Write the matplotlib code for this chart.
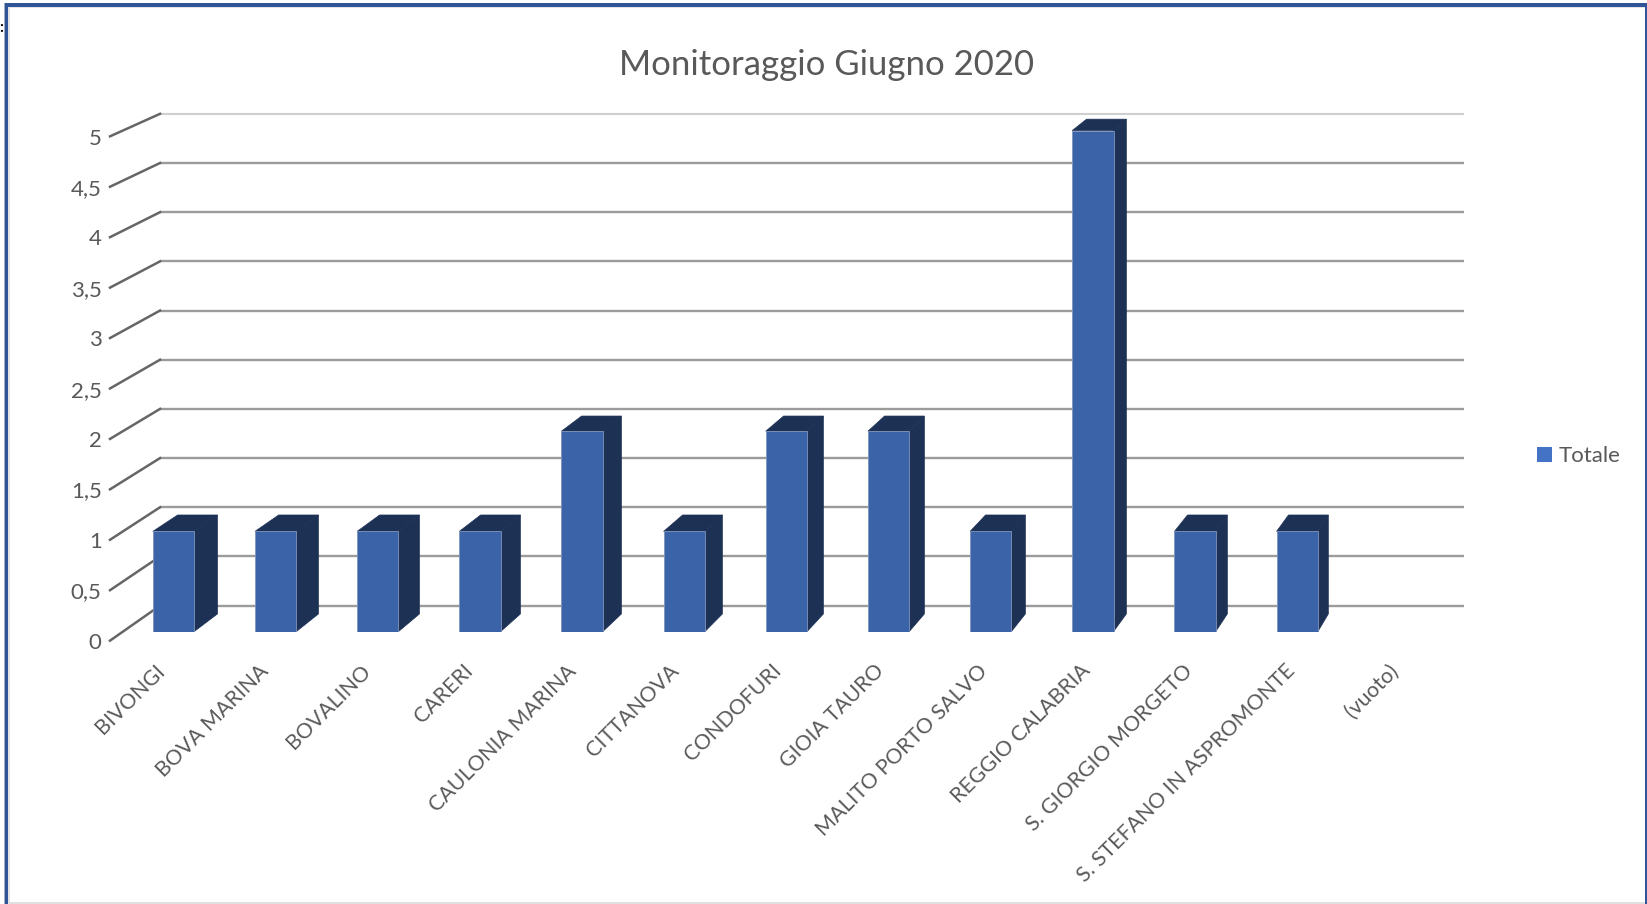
import numpy as np
import matplotlib
matplotlib.use("Agg")
import matplotlib.pyplot as plt
from matplotlib.patches import Polygon, Patch, Rectangle
from matplotlib.lines import Line2D
from matplotlib.transforms import IdentityTransform, ScaledTranslation

categories = ["BIVONGI", "BOVA MARINA", "BOVALINO", "CARERI", "CAULONIA MARINA", "CITTANOVA",
              "CONDOFURI", "GIOIA TAURO", "MALITO PORTO SALVO", "REGGIO CALABRIA",
              "S. GIORGIO MORGETO", "S. STEFANO IN ASPROMONTE", "(vuoto)"]
totale = [1, 1, 1, 1, 2, 1, 2, 2, 1, 5, 1, 1, np.nan]
y_ticks = [0, 0.5, 1, 1.5, 2, 2.5, 3, 3.5, 4, 4.5, 5]
y_labels = ["0", "0,5", "1", "1,5", "2", "2,5", "3", "3,5", "4", "4,5", "5"]
title = "Monitoraggio Giugno 2020"
series_name = "Totale"

W, H = 1647, 904
plt.rcParams['font.family'] = ['Lato', 'DejaVu Sans']
TXT = '#595959'
FRONT, SIDE, EDGE = '#3A63A8', '#1D3155', '#7F94BC'

fig = plt.figure(figsize=((W+0.2)/100, (H+0.2)/100), dpi=100, facecolor='white')

def box(x0, x1, ytop, ybot):
    return [x0/W, 1-ybot/H, (x1-x0)/W, (ybot-ytop)/H]

# back wall with gridlines
ax_back = fig.add_axes(box(160, 1464, 114, 605.7), zorder=0)
ax_back.set_xlim(0, 1); ax_back.set_ylim(0, 5); ax_back.axis('off')
for v in y_ticks:
    c, lw = ('#CFCFCF', 1.5) if v == 5 else ('#9B9B9B', 1.7)
    ax_back.plot([0, 1], [v, v], color=c, lw=lw, clip_on=False, solid_capstyle='butt')

# tick axis on the front edge: real tick labels
ax_tick = fig.add_axes(box(110, 111, 136.5, 640.7), zorder=0)
ax_tick.set_ylim(0, 5); ax_tick.set_xticks([])
for s in ax_tick.spines.values():
    s.set_visible(False)
ax_tick.set_yticks(y_ticks, y_labels, fontsize=16, color=TXT)
ax_tick.tick_params(axis='y', length=0, pad=6)
ax_tick.patch.set_alpha(0)

fig.canvas.draw()
for v in y_ticks:
    a = ax_tick.transData.transform((0, v))
    b = ax_back.transData.transform((0, v))
    ax_back.add_line(Line2D([a[0], b[0]], [a[1], b[1]], color='#666666', lw=1.8,
                            transform=IdentityTransform(), clip_on=False))

# front plane with bars
STEP = 102.15
ax = fig.add_axes(box(173.4-STEP/2, 173.4+12.5*STEP, 130.7, 631.7), zorder=1)
ax.patch.set_alpha(0)
x = np.arange(len(categories))
ax.set_xlim(-0.5, 12.5); ax.set_ylim(0, 5)
for s in ax.spines.values():
    s.set_visible(False)
ax.set_yticks([])
ax.bar(x, totale, width=0.404, color=FRONT, edgecolor=EDGE, linewidth=0.6, zorder=3)
ax.set_xticks(x)
ax.set_xticklabels(categories, rotation=45, ha='right', va='bottom', rotation_mode='anchor',
                   fontsize=15.3, color=TXT)
ax.tick_params(axis='x', length=0, pad=31)
# the reference's labels fan out slightly wider than its bars
for i, lab in enumerate(ax.get_xticklabels()):
    lab.set_transform(lab.get_transform() + ScaledTranslation((-4.2 + 0.57*i)/100, 0, fig.dpi_scale_trans))

def depth_dx(px):
    return 23.4 - (px - 194) * 0.0115
def depth_dy(v):
    return 17.7 - 1.27 * v

for xi, v in zip(x, totale):
    if np.isnan(v):
        continue
    l0 = ax.transData.transform((xi-0.202, 0)); r0 = ax.transData.transform((xi+0.202, 0))
    l1 = ax.transData.transform((xi-0.202, v)); r1 = ax.transData.transform((xi+0.202, v))
    d = depth_dx(r0[0]); dd = depth_dx(l0[0]) + 1
    side = [r0, r1, r1 + (d, depth_dy(v)), r0 + (d, depth_dy(0))]
    top = [l1, r1, r1 + (d, depth_dy(v)), l1 + (dd, depth_dy(v))]
    for pts in (side, top):
        ax.add_patch(Polygon(pts, closed=True, facecolor=SIDE, edgecolor=SIDE, linewidth=0.5,
                             transform=IdentityTransform(), clip_on=False, zorder=2))

fig.text(826/W, 1-65/H, title, fontsize=25, color=TXT, ha='center', va='center')

fig.legend(handles=[Patch(facecolor='#4472C4', label=series_name)], loc='center left',
           bbox_to_anchor=(1537/W, 1-456/H), frameon=False, fontsize=16, labelcolor=TXT,
           handlelength=0.67, handleheight=0.67, handletextpad=0.3, borderpad=0, borderaxespad=0)

# picture frame
def rect(x0, y0, x1, y1, c):
    fig.add_artist(Rectangle((x0/W, 1-y1/H), (x1-x0)/W, (y1-y0)/H, transform=fig.transFigure,
                             facecolor=c, edgecolor='none', zorder=5))
rect(4, 3, 5, 904, '#9FB0C8')
rect(5, 3, 1647, 7, '#2F5597')
rect(5, 3, 8, 904, '#2F5597')
rect(1645, 3, 1647, 904, '#2F5597')
rect(8, 7, 1645, 8.5, '#E4E4E4')
rect(8, 7, 9.5, 904, '#E4E4E4')
rect(9.5, 902.5, 1645, 904, '#E0E0E0')

# stray fragment at the screenshot's left edge
fig.text(1.5/W, 1-28/H, ":", fontsize=11, fontweight='bold', color='black', ha='center', va='center')

fig.savefig('out.png', dpi=100)
